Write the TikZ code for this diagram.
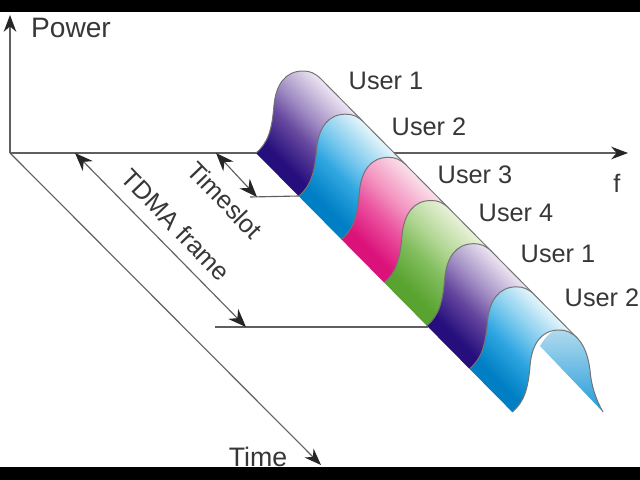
\documentclass[tikz,border=0pt]{standalone}
\usepackage{fontspec}
\setmainfont{Liberation Sans}
\usetikzlibrary{arrows.meta}
\definecolor{axisgrey}{RGB}{95,95,95}
\definecolor{textgrey}{RGB}{55,55,55}
\pgfdeclareverticalshading{purpleband}{100bp}{rgb(0bp)=(0.13,0.05,0.47); rgb(33bp)=(0.15,0.06,0.49); rgb(46bp)=(0.40,0.28,0.62); rgb(55bp)=(0.62,0.54,0.76); rgb(70bp)=(0.93,0.90,0.95); rgb(100bp)=(0.95,0.93,0.97)}
\pgfdeclareverticalshading{blueband}{100bp}{rgb(0bp)=(0,0.48,0.76); rgb(33bp)=(0,0.50,0.77); rgb(46bp)=(0.18,0.65,0.88); rgb(55bp)=(0.46,0.78,0.93); rgb(70bp)=(0.90,0.96,0.98); rgb(100bp)=(0.93,0.97,0.99)}
\pgfdeclareverticalshading{pinkband}{100bp}{rgb(0bp)=(0.85,0.06,0.47); rgb(33bp)=(0.86,0.07,0.48); rgb(46bp)=(0.92,0.32,0.62); rgb(55bp)=(0.95,0.56,0.74); rgb(70bp)=(0.98,0.88,0.92); rgb(100bp)=(0.99,0.92,0.95)}
\pgfdeclareverticalshading{greenband}{100bp}{rgb(0bp)=(0.33,0.62,0.17); rgb(33bp)=(0.35,0.64,0.19); rgb(46bp)=(0.50,0.74,0.36); rgb(55bp)=(0.68,0.83,0.56); rgb(70bp)=(0.91,0.95,0.85); rgb(100bp)=(0.93,0.96,0.88)}
\tikzset{
    axisline/.style={draw=axisgrey,line width=0.8pt},
    axisarrow/.style={axisline,-{Stealth[length=12pt,width=9pt,color=black!85]}},
    bothways/.style={axisline,{Stealth[length=13pt,width=10pt,color=black!85]}-{Stealth[length=13pt,width=10pt,color=black!85]}},
    rim/.style={draw=black!55,line width=0.7pt},
    label/.style={text=textgrey,font=\fontsize{18}{20}\selectfont,inner sep=0pt},
    band/.style={shading=#1,shading angle=-45},
}
\begin{document}
\begin{tikzpicture}[x=0.025cm,y=-0.025cm]
    \useasboundingbox (0,0) rectangle (640,480);
    \fill[white] (0,0) rectangle (640,480);
    % axes
    \coordinate (origin) at (10,153);
    \coordinate (powertip) at (10,15);
    \coordinate (freqtip) at (628,153);
    \coordinate (timetip) at (321,465);
    \draw[axisarrow] (origin) -- (powertip);
    \draw[axisarrow] (origin) -- (freqtip);
    \draw[axisarrow] (origin) -- (timetip);
    % the tube, slot by slot
    \foreach \i/\c in {0/purpleband,1/blueband,2/pinkband,3/greenband,4/purpleband,5/blueband}{
        \begin{scope}[shift={(\i*42.7,\i*43.17)}]
            \path[band=\c] (256,153) .. controls (268,143) and (272,130) .. (274,105)
                .. controls (276,85) and (285,71) .. (303,71)
                .. controls (310,71) and (315,73) .. (321,79) -- (363.7,122.17)
                .. controls (357.7,116.17) and (352.7,114.17) .. (345.7,114.17)
                .. controls (327.7,114.17) and (318.7,128.17) .. (316.7,148.17)
                .. controls (314.7,173.17) and (310.7,186.17) .. (298.7,196.17) -- cycle;
            \draw[rim] (256,153) .. controls (268,143) and (272,130) .. (274,105)
                .. controls (276,85) and (285,71) .. (303,71)
                .. controls (310,71) and (315,73) .. (321,79) -- (363.7,122.17);
        \end{scope}
    }
    % open end of the tube
    \path[top color={rgb,255:red,175;green,218;blue,238},bottom color={rgb,255:red,35;green,155;blue,218}]
        (540,346) .. controls (546,336) and (552,330) .. (559.2,330.02)
        .. controls (566,330) and (571,332) .. (577.2,338.02)
        .. controls (584,345) and (588,355) .. (590,370) .. controls (591,385) and (596,400) .. (603,412) -- cycle;
    \draw[rim] (512.2,412.02) .. controls (524.2,402) and (528.2,389) .. (530.2,364)
        .. controls (532.2,344) and (541.2,330) .. (559.2,330)
        .. controls (566,330) and (571,332) .. (577.2,338)
        .. controls (584,345) and (588,355) .. (590,370) .. controls (591,385) and (596,400) .. (603,412);
    % slot and frame marks
    \coordinate (slotstart) at (216,153);
    \coordinate (slotend) at (257,197);
    \coordinate (slotfoot) at (299,196);
    \coordinate (framestart) at (75,153);
    \coordinate (frameend) at (246,327);
    \coordinate (framefoot) at (428,327);
    \draw[axisline] (250,197) -- (slotfoot);
    \draw[axisline] (215,327) -- (framefoot);
    \draw[bothways] (slotstart) -- (slotend);
    \draw[bothways] (framestart) -- (frameend);
    % labels
    \node[label,font=\fontsize{20}{22}\selectfont] (power) at (71,28) {Power};
    \node[label] (ffreq) at (617,183) {f};
    \node[label,font=\fontsize{19}{22}\selectfont] (time) at (258,457) {Time};
    \node[label,rotate=-46] (timeslot) at (225,200) {Timeslot};
    \node[label,rotate=-46] (tdma) at (176,225) {TDMA frame};
    \node[label] (user1a) at (386,81) {User 1};
    \node[label] (user2a) at (429,127) {User 2};
    \node[label] (user3) at (475,175) {User 3};
    \node[label] (user4) at (516,213) {User 4};
    \node[label] (user1b) at (558,254) {User 1};
    \node[label] (user2b) at (602,298) {User 2};
    % bars
    \fill[black] (0,0) rectangle (640,12);
    \fill[black] (0,467) rectangle (640,480);
\end{tikzpicture}
\end{document}
